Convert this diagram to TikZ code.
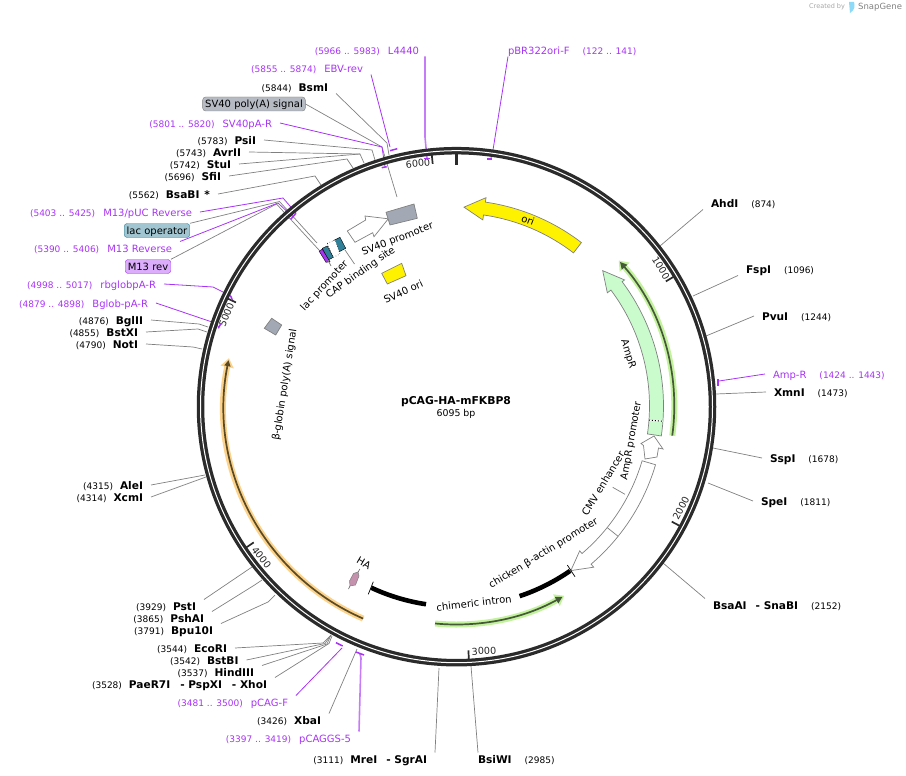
\documentclass[tikz,border=0pt]{standalone}
\usepackage{fontspec}
\setmainfont{DejaVu Sans}
\usetikzlibrary{arrows.meta}
\definecolor{primerc}{HTML}{A833F5}
\definecolor{primerl}{HTML}{C77CF7}
\definecolor{ringc}{HTML}{2B2B2B}
\definecolor{linkc}{HTML}{808080}
\definecolor{boxc}{HTML}{A2A9B4}
\definecolor{amprc}{HTML}{C9FBCD}
\definecolor{haloc}{HTML}{C2F29B}
\definecolor{coregreen}{HTML}{46583A}
\definecolor{haloo}{HTML}{FCD38C}
\definecolor{coreo}{HTML}{5A4A25}
\definecolor{tealc}{HTML}{2F8098}
\definecolor{hac}{HTML}{C592AE}
\newcommand{\bp}[1]{{\fontsize{9}{10}\selectfont #1}}
\newcommand{\nm}[1]{{\fontsize{10.6}{12}\selectfont\bfseries #1}}
\tikzset{
  site/.style={inner sep=0pt,outer xsep=8pt,outer ysep=0pt,text height=11pt,text depth=2pt,text=black,font=\fontsize{10}{12}\selectfont},
  primer/.style={site,text=primerc},
  pill/.style={draw,rounded corners=3pt,inner xsep=2.5pt,inner ysep=0pt,minimum height=14pt,text height=9pt,text depth=2pt,font=\fontsize{10}{12}\selectfont},
  feat/.style={inner sep=0pt,font=\fontsize{10}{12}\selectfont},
  ticklabel/.style={inner sep=0pt,font=\fontsize{9.6}{12}\selectfont,text=black!85},
  sitelink/.style={draw=linkc,line width=0.7pt},
  primerlink/.style={draw=primerc,line width=0.8pt},
  primerbar/.style={draw=primerc,line width=1.5pt},
  band/.style={draw=linkc,line width=0.7pt},
  halo/.style={line width=6pt},
  core/.style={line width=1.7pt},
  blackbar/.style={line width=4.6pt,black},
}
\begin{document}
\begin{tikzpicture}[x=1pt,y=-1pt]
\useasboundingbox (0,0) rectangle (906,776);
\coordinate (ringhub) at (456.5,406.7);

\node[inner sep=0pt,text=black!35,font=\fontsize{6.5}{8}\selectfont,anchor=west] (createdby) at (809,7) {Created by};
\fill[cyan!45] (849,2) -- (854,2) .. controls (855,6) and (855,10) .. (850,13) -- cycle;
\node[inner sep=0pt,text=black!50,font=\fontsize{8.5}{10}\selectfont,anchor=west] (snapgene) at (858,7) {SnapGene};

\node[primer,anchor=east,outer xsep=6pt] (l4440) at (425,50) {\bp{(5966 .. 5983)}\hspace{8pt}L4440};
\node[primer,anchor=east] (ebvrev) at (371,68) {\bp{(5855 .. 5874)}\hspace{8pt}EBV-rev};
\node[site,anchor=east] (bsmi) at (336,87) {\bp{(5844)}\hspace{7pt}\nm{BsmI}};
\node[pill,draw=linkc,fill=boxc!80,anchor=center] (sv40polya) at (254,104) {SV40 poly(A) signal};
\node[primer,anchor=east] (sv40par) at (280,123) {\bp{(5801 .. 5820)}\hspace{8pt}SV40pA-R};
\node[site,anchor=east] (psii) at (264,140) {\bp{(5783)}\hspace{7pt}\nm{PsiI}};
\node[site,anchor=east] (avrii) at (249,152) {\bp{(5743)}\hspace{7pt}\nm{AvrII}};
\node[site,anchor=east] (stui) at (239,164) {\bp{(5742)}\hspace{7pt}\nm{StuI}};
\node[site,anchor=east] (sfii) at (229,176) {\bp{(5696)}\hspace{7pt}\nm{SfiI}};
\node[site,anchor=east] (bsabi) at (218,194) {\bp{(5562)}\hspace{7pt}\nm{BsaBI\hspace{5pt}*}};
\node[primer,anchor=east] (m13puc) at (200,212) {\bp{(5403 .. 5425)}\hspace{8pt}M13/pUC Reverse};
\node[pill,draw=tealc,fill=tealc!45,anchor=center] (lacop) at (157,230.5) {lac operator};
\node[primer,anchor=east] (m13r) at (180,248) {\bp{(5390 .. 5406)}\hspace{8pt}M13 Reverse};
\node[pill,draw=primerc,fill=primerc!40,anchor=center] (m13rev) at (148,266.5) {M13 rev};
\node[primer,anchor=east] (rbglob) at (164,284) {\bp{(4998 .. 5017)}\hspace{8pt}rbglobpA-R};
\node[primer,anchor=east] (bglob) at (156,303) {\bp{(4879 .. 4898)}\hspace{8pt}Bglob-pA-R};
\node[site,anchor=east] (bglii) at (151,320) {\bp{(4876)}\hspace{7pt}\nm{BglII}};
\node[site,anchor=east] (bstxi) at (146,332) {\bp{(4855)}\hspace{7pt}\nm{BstXI}};
\node[site,anchor=east] (noti) at (146,344) {\bp{(4790)}\hspace{7pt}\nm{NotI}};
\node[site,anchor=east] (alei) at (151,485) {\bp{(4315)}\hspace{7pt}\nm{AleI}};
\node[site,anchor=east] (xcmi) at (151,497) {\bp{(4314)}\hspace{7pt}\nm{XcmI}};
\node[site,anchor=east] (psti) at (204,606) {\bp{(3929)}\hspace{7pt}\nm{PstI}};
\node[site,anchor=east] (pshai) at (212,618) {\bp{(3865)}\hspace{7pt}\nm{PshAI}};
\node[site,anchor=east] (bpuI) at (221,630) {\bp{(3791)}\hspace{7pt}\nm{Bpu10I}};
\node[site,anchor=east] (ecori) at (235,648) {\bp{(3544)}\hspace{7pt}\nm{EcoRI}};
\node[site,anchor=east] (bstbi) at (246.5,660) {\bp{(3542)}\hspace{7pt}\nm{BstBI}};
\node[site,anchor=east] (hindiii) at (262,672) {\bp{(3537)}\hspace{7pt}\nm{HindIII}};
\node[site,anchor=east] (paer) at (275,684) {\bp{(3528)}\hspace{7pt}\nm{PaeR7I}\hspace{10pt}\nm{- PspXI}\hspace{10pt}\nm{- XhoI}};
\node[primer,anchor=east] (pcagf) at (296,702) {\bp{(3481 .. 3500)}\hspace{8pt}pCAG-F};
\node[site,anchor=east] (xbai) at (329,720) {\bp{(3426)}\hspace{7pt}\nm{XbaI}};
\node[primer,anchor=east] (pcaggs) at (359,738) {\bp{(3397 .. 3419)}\hspace{8pt}pCAGGS-5};
\node[site,anchor=east] (mrei) at (435,759) {\bp{(3111)}\hspace{7pt}\nm{MreI}\hspace{9pt}\nm{- SgrAI}};
\node[site,anchor=west,outer xsep=0pt] (bsiwi) at (478,759) {\nm{BsiWI}\hspace{13pt}\bp{(2985)}};
\node[primer,anchor=west,outer xsep=0pt] (pbr) at (508,50) {pBR322ori-F\hspace{13pt}\bp{(122 .. 141)}};
\node[site,anchor=west] (ahdi) at (703,203) {\nm{AhdI}\hspace{13pt}\bp{(874)}};
\node[site,anchor=west] (fspi) at (738,269) {\nm{FspI}\hspace{13pt}\bp{(1096)}};
\node[site,anchor=west] (pvui) at (754,316) {\nm{PvuI}\hspace{13pt}\bp{(1244)}};
\node[primer,anchor=west] (ampr) at (765,374) {Amp-R\hspace{13pt}\bp{(1424 .. 1443)}};
\node[site,anchor=west] (xmni) at (766,392) {\nm{XmnI}\hspace{13pt}\bp{(1473)}};
\node[site,anchor=west] (sspi) at (762,458) {\nm{SspI}\hspace{13pt}\bp{(1678)}};
\node[site,anchor=west] (spei) at (753,501) {\nm{SpeI}\hspace{13pt}\bp{(1811)}};
\node[site,anchor=west] (bsaai) at (705,605) {\nm{BsaAI}\hspace{9pt}\nm{- SnaBI}\hspace{13pt}\bp{(2152)}};

\coordinate (bsmiA) at (387,143); \coordinate (bsmiB) at (389,155);
\draw[sitelink] (bsmi.south east) -- (bsmiA) -- (bsmiB);
\coordinate (polyA) at (382,147); \coordinate (polyB) at (397,197);
\draw[sitelink] (sv40polya.east) -- (polyA) -- (polyB);
\coordinate (psiA) at (372,150); \coordinate (psiB) at (375,160);
\draw[sitelink] (psii.east) -- (psiA) -- (psiB);
\coordinate (avrA) at (360,154); \coordinate (avrB) at (364,163);
\draw[sitelink] (avrii.east) -- (avrA) -- (avrB);
\draw[sitelink] (stui.east) -- (avrA);
\coordinate (sfiA) at (347,159); \coordinate (sfiB) at (353,168);
\draw[sitelink] (sfii.east) -- (sfiA) -- (sfiB);
\coordinate (bsabA) at (315,176); \coordinate (bsabB) at (321,185);
\draw[sitelink] (bsabi.east) -- (bsabA) -- (bsabB);
\coordinate (lacA) at (279.5,201.5); \coordinate (lacB) at (317,243);
\draw[sitelink] (lacop.north east) -- (lacA) -- (lacB);
\coordinate (revA) at (276.5,204); \coordinate (revB) at (319,250);
\draw[sitelink] (m13rev.north east) -- (revA) -- (revB);
\coordinate (bgliiA) at (199,324); \coordinate (bgliiB) at (208,327);
\draw[sitelink] (bglii.east) -- (bgliiA) -- (bgliiB);
\coordinate (bstxA) at (198,329); \coordinate (bstxB) at (207,332);
\draw[sitelink] (bstxi.east) -- (bstxA) -- (bstxB);
\coordinate (notA) at (193,347); \coordinate (notB) at (202,349);
\draw[sitelink] (noti.east) -- (notA) -- (notB);
\coordinate (aleA) at (205,475);
\draw[sitelink] (alei.east) -- (aleA);
\coordinate (xcmA) at (206,477);
\draw[sitelink] (xcmi.east) -- (xcmA);
\coordinate (pstA) at (252,567);
\draw[sitelink] (psti.north east) -- (pstA);
\coordinate (pshA) at (253,586); \coordinate (pshB) at (262,580);
\draw[sitelink] (pshai.north east) -- (pshA) -- (pshB);
\coordinate (bpuA) at (268,602); \coordinate (bpuB) at (275,595);
\draw[sitelink] (bpuI.north east) -- (bpuA) -- (bpuB);
\coordinate (ecoA) at (323,643); \coordinate (ecoB) at (331,635);
\draw[sitelink] (ecori.east) -- (ecoA) -- (ecoB);
\coordinate (bstbA) at (325,643.5);
\draw[sitelink] (bstbi.east) -- (bstbA) -- (ecoB);
\coordinate (hindA) at (327,644);
\draw[sitelink] (hindiii.north east) -- (hindA) -- (ecoB);
\coordinate (paerA) at (329,643.5); \coordinate (paerB) at (332,636);
\draw[sitelink] (paer.north east) -- (paerA) -- (paerB);
\coordinate (xbaA) at (357,649);
\draw[sitelink] (xbai.north east) -- (xbaA);
\coordinate (mreA) at (439,668);
\draw[sitelink] (mrei.north east) -- (mreA);
\coordinate (bsiA) at (471,666);
\draw[sitelink] (bsiwi.north west) -- (bsiA);
\coordinate (ahdA) at (660,246);
\draw[sitelink] (ahdi.south west) -- (ahdA);
\coordinate (fspA) at (693,296);
\draw[sitelink] (fspi.south west) -- (fspA);
\coordinate (pvuA) at (706,336);
\draw[sitelink] (pvui.west) -- (pvuA);
\coordinate (xmnA) at (716,394);
\draw[sitelink] (xmni.west) -- (xmnA);
\coordinate (sspA) at (713,448);
\draw[sitelink] (sspi.west) -- (sspA);
\coordinate (speA) at (708,483);
\draw[sitelink] (spei.west) -- (speA);
\coordinate (bsaaA) at (663,563);
\draw[sitelink] (bsaai.north west) -- (bsaaA);

\coordinate (l44A) at (425,137); \coordinate (l44B) at (427,158);
\draw[primerlink,draw=primerl,line width=1.6pt] (l4440.south east) -- (l44A) -- (l44B);
\coordinate (ebvA) at (390,147);
\draw[primerlink] (ebvrev.south east) -- (ebvA);
\coordinate (parA) at (382,147); \coordinate (parB) at (385,167);
\draw[primerlink] (sv40par.east) -- (parA) -- (parB);
\coordinate (pucA) at (283,198); \coordinate (pucB) at (296,213);
\draw[primerlink] (m13puc.east) -- (pucA) -- (pucB);
\coordinate (mrA) at (278,203); \coordinate (mrB) at (293,217);
\draw[primerlink] (m13r.north east) -- (mrA) -- (mrB);
\coordinate (rbgA) at (213,287); \coordinate (rbgB) at (231,296);
\draw[primerlink] (rbglob.east) -- (rbgA) -- (rbgB);
\coordinate (bglA) at (212,322); \coordinate (bglB) at (219,327);
\draw[primerlink] (bglob.east) -- (bglA) -- (bglB);
\coordinate (cagA) at (342,648);
\draw[primerlink] (pcagf.north east) -- (cagA);
\coordinate (cgsA) at (361,658); \coordinate (cgsB) at (360,654);
\draw[primerlink,draw=primerl,line width=1.6pt] (pcaggs.north east) -- (cgsA) -- (cgsB);
\coordinate (pbrA) at (493,150); \coordinate (pbrB) at (491,158);
\draw[primerlink] (pbr.south west) -- (pbrA) -- (pbrB);
\coordinate (ampA) at (719,381);
\draw[primerlink] (ampr.west) -- (ampA);

\draw[ringc,line width=7.5pt] (ringhub) circle[radius=256];
\draw[white,line width=1pt] (ringhub) circle[radius=256];

\draw[ringc,line width=3pt] (456.5,154) -- (456.5,165);
\foreach \ang in {-30.9,28.1,87.2,146.2,205.3,264.4}
  \draw[ringc,line width=1.7pt] (ringhub) ++(\ang:253) -- ++(\ang:-9);

\node[ticklabel,rotate=6] (t6000) at (418,163.5) {6000};
\node[ticklabel,rotate=-59] (t1000) at (661,268) {1000};
\node[ticklabel,rotate=62] (t2000) at (681,508) {2000};
\node[ticklabel,rotate=3] (t3000) at (484,651) {3000};
\node[ticklabel,rotate=-52] (t4000) at (261.5,557.5) {4000};
\node[ticklabel,rotate=68] (t5000) at (226.5,315) {5000};

\draw[primerbar] (390,150.7) -- (397.3,148.7);
\draw[primerbar] (424,158.5) -- (430,158.5);
\draw[primerbar] (381.7,167.7) -- (386.7,166.7);
\draw[primerbar] (290.7,219.3) -- (296,213.3);
\draw[primerbar] (230.7,296) -- (232.3,300);
\draw[primerbar] (218.3,328.3) -- (221,323.3);
\draw[primerbar] (336,642.7) -- (342.7,646);
\draw[primerbar] (356,652) -- (364,655);
\draw[primerbar] (487.3,159) -- (492.3,159);
\draw[primerbar] (718,379) -- (718,385.5);

\begin{scope}[shift={(456,406)}]
\draw[band,fill=yellow] (-52.5:206) arc[start angle=-52.5,end angle=-81.8,radius=206] -- (-81.8:210.5) -- (-87.7:199) -- (-81.8:188) -- (-81.8:193) arc[start angle=-81.8,end angle=-52.5,radius=193] -- cycle;
\draw[band,fill=amprc] (8.3:207.5) arc[start angle=8.3,end angle=-36.8,radius=207.5] -- (-36.8:210.5) -- (-42.7:199.6) -- (-36.8:189) -- (-36.8:193.5) arc[start angle=-36.8,end angle=8.3,radius=193.5] -- cycle;
\draw[white,line width=1pt] (4.2:193.5) -- (4.2:207.5);
\draw[black,line width=1pt,dotted] (4.2:193.5) -- (4.2:207.5);
\draw[band,fill=white] (16.4:208) arc[start angle=16.4,end angle=49.5,radius=208] -- (49.5:212) -- (55.1:200.7) -- (49.5:190.5) -- (49.5:194) arc[start angle=49.5,end angle=16.4,radius=194] -- cycle;
\draw[band] (38.8:194) -- (38.8:208);
\draw[haloc,halo,-{Stealth[length=9pt,width=13pt,inset=0pt]}] (7.8:218.3) arc[start angle=7.8,end angle=-41.8,radius=218.3];
\draw[coregreen,core,-{Stealth[length=7pt,width=7pt,inset=0pt]}] (7.8:218.3) arc[start angle=7.8,end angle=-41.3,radius=218.3];
\draw[haloc,halo,-{Stealth[length=9pt,width=13pt,inset=0pt]}] (95.5:218.5) arc[start angle=95.5,end angle=60.3,radius=218.5];
\draw[coregreen,core,-{Stealth[length=7pt,width=7pt,inset=0pt]}] (95.5:218.5) arc[start angle=95.5,end angle=60.8,radius=218.5];
\draw[haloo,halo,-{Stealth[length=9pt,width=13pt,inset=0pt]}] (113.6:232) arc[start angle=113.6,end angle=191.9,radius=232];
\draw[coreo,core,-{Stealth[length=6pt,width=6pt,inset=0pt]}] (113.6:232) arc[start angle=113.6,end angle=191.4,radius=232];
\draw[blackbar] (115:200.5) arc[start angle=115,end angle=98.6,radius=200.5];
\draw[blackbar] (71.5:200.5) arc[start angle=71.5,end angle=55.3,radius=200.5];
\end{scope}

\draw[black,line width=0.7pt] (373.3,581.7) -- (368.3,594.3);
\draw[black,line width=0.7pt] (567.3,565) -- (575,576.7);

\draw[band,fill=white] (654,436) -- (663,449) -- (658.5,448) -- (657,457) -- (645,459) -- (643.5,445.5) -- (641,443.5) -- cycle;
\draw[band,fill=white] (347.3,231) -- (365.7,220) -- (365,216) -- (388.3,218.8) -- (374,236.7) -- (372.7,232.7) -- (355,242.3) -- cycle;
\draw[band,fill=boxc] (386,212.3) -- (414,204) -- (417.3,218.3) -- (390,225) -- cycle;
\draw[band,fill=yellow] (381.7,273.3) -- (401.7,263.3) -- (406,275.7) -- (387.3,284) -- cycle;
\draw[band,fill=boxc] (264.3,328.3) -- (271.7,318.3) -- (281.7,325) -- (275.7,335) -- cycle;

\draw[black,fill=tealc,line width=0.4pt] (333.3,240.7) -- (340,237.3) -- (345.7,248.3) -- (339.3,251.7) -- cycle;
\draw[black,fill=white,dotted,line width=0.5pt] (327.3,243.3) -- (335,240) -- (340,254) -- (333.3,257.3) -- cycle;
\draw[black,fill=tealc,line width=0.4pt] (322.3,248.3) -- (327.3,246) -- (333.3,257.3) -- (328.3,260) -- cycle;
\draw[black,fill=primerc,line width=0.4pt] (319,251) -- (322.3,249.3) -- (330,261.7) -- (326,262.3) -- cycle;

\draw[linkc,fill=hac,line width=0.5pt] (350,586) -- (349.5,581) -- (353.5,573.5) -- (358,572) -- (359,576) -- (355.5,585) -- cycle;
\draw[black!70,line width=0.5pt] (348.5,589) -- (350,586);
\draw[black!70,line width=0.5pt] (358,572) -- (360,569);

\node[feat,rotate=-21] (orilabel) at (528,220) {ori};
\node[feat,rotate=-73] (amprlabel) at (628,354) {AmpR};
\node[feat,rotate=80] (ampplabel) at (631.5,441) {AmpR promoter};
\node[feat,rotate=59] (cmvlabel) at (603,483.5) {CMV enhancer};
\node[feat,rotate=31.4] (actinlabel) at (543.5,553.5) {chicken β-actin promoter};
\node[feat,rotate=6.6] (intronlabel) at (474,603) {chimeric intron};
\node[feat,rotate=-30] (halabel) at (364,563) {HA};
\node[feat,rotate=81] (globinlabel) at (285,385) {β-globin poly(A) signal};
\node[feat,rotate=47] (lacplabel) at (324.5,286) {lac promoter};
\node[feat,rotate=35] (caplabel) at (360.7,272.7) {CAP binding site};
\node[feat,rotate=21] (sv40plabel) at (397.7,239.3) {SV40 promoter};
\node[feat,rotate=25] (sv40olabel) at (403.3,291.7) {SV40 ori};

\coordinate (cmvA) at (612.7,487.3); \coordinate (cmvB) at (625,494.3);
\draw[sitelink] (cmvA) -- (cmvB);
\coordinate (capA) at (345,250); \coordinate (capB) at (354.5,264);
\draw[sitelink] (capA) -- (capB);
\coordinate (lacpA) at (328,260); \coordinate (lacpB) at (331,266);
\draw[sitelink] (lacpA) -- (lacpB);

\node[inner sep=0pt,font=\fontsize{10.8}{12}\selectfont\bfseries] (plasmid) at (456,402) {pCAG-HA-mFKBP8};
\node[inner sep=0pt,font=\fontsize{9.4}{12}\selectfont] (plasmidbp) at (456,414) {6095 bp};
\end{tikzpicture}
\end{document}
